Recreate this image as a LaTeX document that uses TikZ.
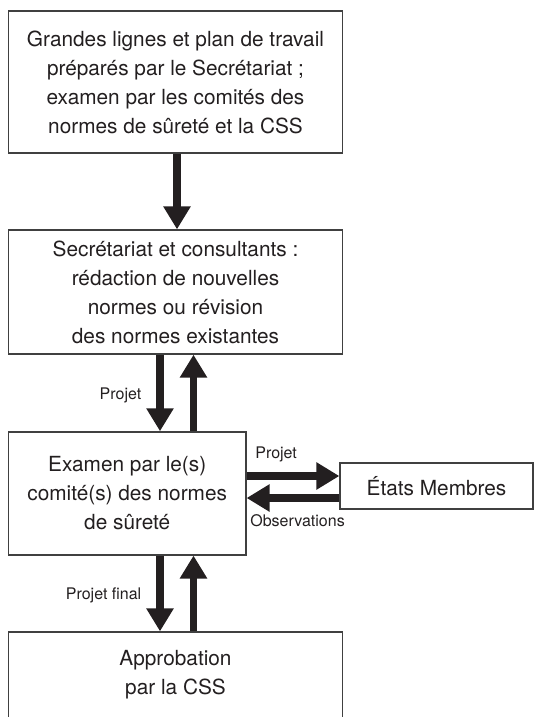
\documentclass[tikz,border=0pt]{standalone}
\usepackage{fontspec}
\setmainfont{TeX Gyre Heros}
\usepackage{tikz}
\definecolor{boxgray}{RGB}{64,64,64}
\definecolor{inkblack}{RGB}{35,31,32}
\usetikzlibrary{arrows.meta,positioning,calc}
\tikzset{
  stagebox/.style={rectangle, draw=boxgray, line width=1.3pt, fill=white,
    text=inkblack, align=center, inner sep=0pt,
    font=\fontsize{20.8}{29}\selectfont},
  flowarrow/.style={-{Triangle[length=23pt,width=26pt]}, line width=7.5pt, inkblack},
  arrowlabel/.style={font=\fontsize{16}{19}\selectfont, text=inkblack, inner sep=0pt},
}

\begin{document}
\begin{tikzpicture}[x=1pt,y=-1pt]
    \useasboundingbox (0,0) rectangle (534,717);
    \clip (0,0) rectangle (534,717);

    % Outline and work plan — top
    \node[stagebox, minimum width=334pt, minimum height=142pt]
          (plan) at (175.5,82) {Grandes lignes et plan de travail\\
          préparés par le Secrétariat ;\\examen par les comités des\\
          normes de sûreté et la CSS};

    % Drafting by the Secretariat
    \node[stagebox, minimum width=334pt, minimum height=124pt]
          (secr) at (175.5,292) {Secrétariat et consultants :\\
          rédaction de nouvelles\\normes ou révision\\des normes existantes};

    % Committee review — left
    \node[stagebox, minimum width=237.5pt, minimum height=123pt]
          (exam) at (127.2,493.4) {Examen par le(s)\\comité(s) des normes\\de sûreté};

    % Member States — right
    \node[stagebox, minimum width=193pt, minimum height=46pt]
          (etats) at (436.5,486) {États Membres};

    % Approval, cut at the bottom
    \node[stagebox, minimum width=334pt, minimum height=86pt]
          (appro) at (175.5,675) {Approbation\\par la CSS};

    \coordinate (projout) at ([yshift=10pt]etats.west);
    \coordinate (projback) at ([yshift=-12pt]etats.west);

    % Arrows
    \draw[flowarrow] ([xshift=1.5pt]plan.south) -- ([xshift=1.5pt]plan.south |- secr.north);
    \draw[flowarrow]
      ([xshift=-15.5pt]secr.south) -- node[arrowlabel, pos=0.53, left=15pt]{Projet}
      ([xshift=-15.5pt]secr.south |- exam.north);
    \draw[flowarrow] ([xshift=18pt]secr.south |- exam.north) -- ([xshift=18pt]secr.south);
    \draw[flowarrow]
      (exam.east |- projout) -- node[arrowlabel, pos=0, anchor=base west, xshift=5pt, yshift=18pt]{Projet}
      (projout);
    \draw[flowarrow]
      (projback) -- node[arrowlabel, pos=1, anchor=base west, xshift=0pt, yshift=-28.5pt]{Observations}
      (exam.east |- projback);
    \draw[flowarrow]
      ([xshift=-15.5pt]appro.north |- exam.south) -- node[arrowlabel, pos=0.52, left=15pt]{Projet final}
      ([xshift=-15.5pt]appro.north);
    \draw[flowarrow] ([xshift=18pt]appro.north) -- ([xshift=18pt]appro.north |- exam.south);
\end{tikzpicture}
\end{document}
